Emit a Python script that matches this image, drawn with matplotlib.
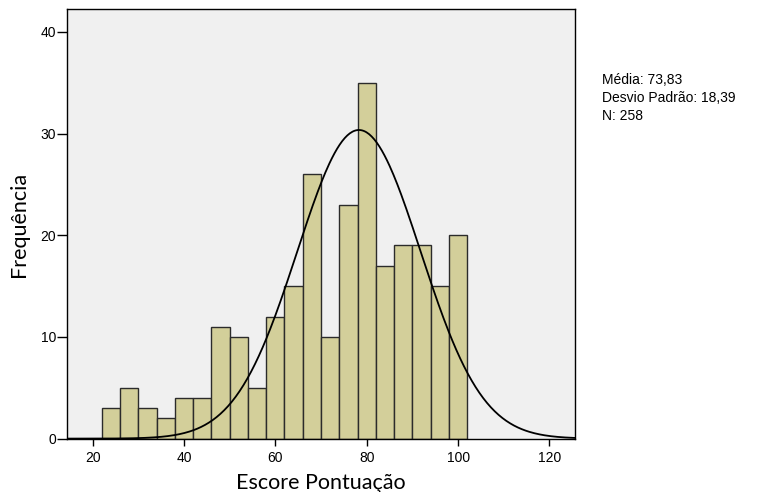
import numpy as np
import matplotlib
matplotlib.use('Agg')
import matplotlib.pyplot as plt

# histogram bins (score) and counts
bin_start = 22
bin_width = 4
counts = [3, 5, 3, 2, 4, 4, 11, 10, 5, 12, 15, 26, 10, 23, 35, 17, 19, 19, 15, 20]

# normal curve as drawn (peak position, spread, peak height)
curve_mu = 78.3
curve_sd = 13.5
curve_peak = 30.35

stats_lines = ['Média: 73,83', 'Desvio Padrão: 18,39', 'N: 258']
xticks = [20, 40, 60, 80, 100, 120]
yticks = [0, 10, 20, 30, 40]

fig = plt.figure(figsize=(7.59, 4.92), dpi=100)
ax = fig.add_axes([0.0883, 0.1085, 0.6693, 0.8722])
ax.set_facecolor('#f0f0f0')

edges = bin_start + bin_width * np.arange(len(counts))
ax.bar(edges, counts, width=bin_width, align='edge', color='#d3cf9a',
       edgecolor='#2b2b2b', linewidth=1.0, zorder=2)

xs = np.linspace(14, 126, 400)
ys = curve_peak * np.exp(-0.5 * ((xs - curve_mu) / curve_sd) ** 2)
ax.plot(xs, ys, color='black', linewidth=1.3, zorder=3)

ax.set_xlim(14.4, 125.6)
ax.set_ylim(0, 42.2)
ax.set_xticks(xticks)
ax.set_yticks(yticks)
for s in ax.spines.values():
    s.set_color('black')
    s.set_linewidth(1.0)
ax.tick_params(axis='x', length=5, width=1, labelsize=10, pad=4)
ax.tick_params(axis='y', length=7, width=1, labelsize=10, pad=1)
for lab in ax.get_xticklabels() + ax.get_yticklabels():
    lab.set_family('Liberation Sans')

ax.set_xlabel('Escore Pontuação', fontsize=15.5, family='Lato', labelpad=6)
ax.set_ylabel('Frequência', fontsize=15.5, family='Lato', labelpad=8)

for i, line in enumerate(stats_lines):
    fig.text(602 / 759, 1 - (80 + 18 * i) / 492, line, fontsize=10,
             family='Liberation Sans', va='center', ha='left')

fig.savefig('out.png', dpi=100)
